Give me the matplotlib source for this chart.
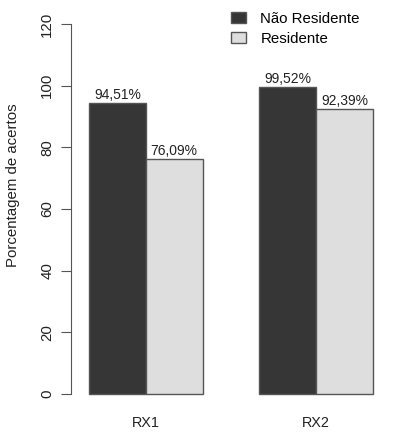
import matplotlib.pyplot as plt
from matplotlib.patches import Patch

# data
groups = ["RX1", "RX2"]
series = ["Não Residente", "Residente"]
nao_residente = [94.51, 99.52]
residente = [76.09, 92.39]
value_labels = [["94,51%", "99,52%"], ["76,09%", "92,39%"]]
yticks = [0, 20, 40, 60, 80, 100, 120]

colors = ["#363636", "#dedede"]
edge = "#555555"
txt = "#222222"

plt.rcParams["font.family"] = ["Liberation Sans", "DejaVu Sans"]

W, H = 393, 432
fig = plt.figure(figsize=(W / 100, H / 100), dpi=100)

# axes placed in pixels to mimic the R barplot layout
px_per_unit = 56.8
x0 = 1 - 18 / px_per_unit
x1 = 6 + 20 / px_per_unit
py_per_unit = 370 / 120
y0, y1 = -4.8, 124.8
top_px = 24 - (y1 - 120) * py_per_unit
bot_px = 394 + (0 - y0) * py_per_unit
ax = fig.add_axes([71 / W, 1 - bot_px / H, 1 - 71 / W, (bot_px - top_px) / H])
ax.set_xlim(x0, x1)
ax.set_ylim(y0, y1)

# R style positions: bars of width 1, gap of 1 between groups
for g in range(len(groups)):
    for s, vals in enumerate([nao_residente, residente]):
        left = 1 + g * 3 + s
        ax.bar(left, vals[g], width=1, align="edge", color=colors[s],
               edgecolor=edge, linewidth=1)
        ax.text(left + 0.5, vals[g] + 0.3, value_labels[s][g], ha="center",
                va="bottom", fontsize=10, color=txt)
    ax.text(1 + g * 3 + 1, -9.5, groups[g], ha="center", va="center",
            fontsize=10.4, color=txt)

for side in ["top", "right", "bottom"]:
    ax.spines[side].set_visible(False)
ax.spines["left"].set_bounds(0, 120)
ax.spines["left"].set_color(edge)
ax.set_xticks([])
ax.set_yticks(yticks)
ax.set_yticklabels([str(t) for t in yticks], rotation=90, va="center",
                   fontsize=10.8, color=txt)
ax.tick_params(axis="y", length=7, color=edge, pad=5)

fig.text(13 / W, 1 - 185 / H, "Porcentagem de acertos", rotation=90,
         ha="center", va="center", fontsize=10.8, color=txt)

handles = [Patch(facecolor=c, edgecolor=edge) for c in colors]
fig.legend(handles, series, loc="upper left", bbox_to_anchor=(231 / W, 1 - 12 / H),
           frameon=False, fontsize=10.8, handlelength=1.0, handleheight=0.75,
           handletextpad=0.95, labelspacing=0.38, borderpad=0, borderaxespad=0)

fig.savefig("out.png", dpi=100)
